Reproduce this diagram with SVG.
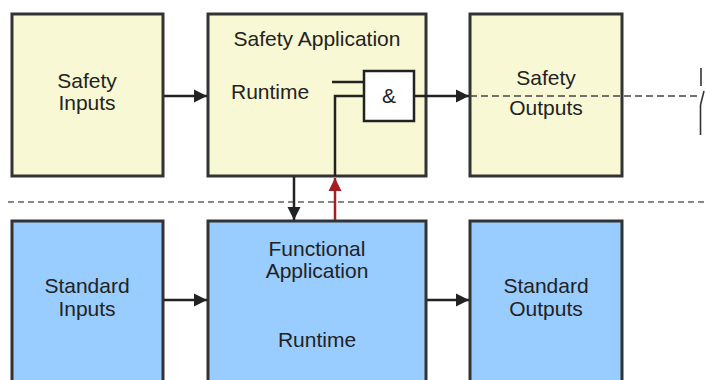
<svg xmlns="http://www.w3.org/2000/svg" width="706" height="380" viewBox="0 0 706 380">
<defs>
<style>
.y{fill:#f8f8d4;stroke:#333;stroke-width:3}
.b{fill:#99ccff;stroke:#333;stroke-width:3}
.t{font-family:"Liberation Sans",Arial,sans-serif;font-size:21px;fill:#222;text-anchor:middle}
.l{stroke:#222;stroke-width:2.5;fill:none}
</style>
<marker id="ah" markerUnits="userSpaceOnUse" markerWidth="14" markerHeight="14" refX="13" refY="7" orient="auto" viewBox="0 0 14 14">
<path d="M0,0.5 L13,7 L0,13.5 z" fill="#222"/>
</marker>
<marker id="ahr" markerUnits="userSpaceOnUse" markerWidth="14" markerHeight="14" refX="13" refY="7" orient="auto" viewBox="0 0 14 14">
<path d="M0,0.5 L13,7 L0,13.5 z" fill="#a61e22"/>
</marker>
</defs>
<rect width="706" height="380" fill="#fff"/>
<line x1="8" y1="202" x2="706" y2="202" stroke="#888" stroke-width="2" stroke-dasharray="6,4"/>
<g id="safety-inputs">
<rect class="y" x="12" y="14" width="151" height="162"/>
<text class="t" x="87" y="88">Safety</text>
<text class="t" x="87" y="110">Inputs</text>
</g>
<g id="safety-application">
<rect class="y" x="208" y="14" width="218" height="162"/>
<text class="t" x="317" y="46">Safety Application</text>
<text class="t" x="231" y="99" style="text-anchor:start">Runtime</text>
</g>
<g id="and-gate">
<rect x="364" y="71" width="50" height="50" fill="#fff" stroke="#222" stroke-width="2.5"/>
<text class="t" x="389" y="103">&amp;</text>
</g>
<g id="safety-outputs">
<rect class="y" x="470" y="14" width="152" height="162"/>
<text class="t" x="546" y="85">Safety</text>
<text class="t" x="546" y="115">Outputs</text>
</g>
<g id="standard-inputs">
<rect class="b" x="12" y="221" width="151" height="170"/>
<text class="t" x="87" y="293">Standard</text>
<text class="t" x="87" y="316">Inputs</text>
</g>
<g id="functional-application">
<rect class="b" x="208" y="221" width="218" height="170"/>
<text class="t" x="317" y="256">Functional</text>
<text class="t" x="317" y="278">Application</text>
<text class="t" x="317" y="347">Runtime</text>
</g>
<g id="standard-outputs">
<rect class="b" x="470" y="221" width="152" height="170"/>
<text class="t" x="546" y="293">Standard</text>
<text class="t" x="546" y="316">Outputs</text>
</g>
<g id="connectors">
<line class="l" x1="164" y1="96" x2="207" y2="96" marker-end="url(#ah)"/>
<line class="l" x1="164" y1="300" x2="207" y2="300" marker-end="url(#ah)"/>
<line class="l" x1="427" y1="300" x2="469" y2="300" marker-end="url(#ah)"/>
<line class="l" x1="415" y1="96" x2="469" y2="96" marker-end="url(#ah)"/>
<line class="l" x1="294" y1="177" x2="294" y2="220" marker-end="url(#ah)"/>
<line x1="335" y1="220" x2="335" y2="178" stroke="#a61e22" stroke-width="2.5" marker-end="url(#ahr)"/>
<polyline class="l" points="335,176 335,96 364,96"/>
<line class="l" x1="332" y1="82" x2="364" y2="82"/>
<line x1="470" y1="96" x2="700" y2="96" stroke="#444" stroke-width="1.6" stroke-dasharray="7,4"/>
<g stroke="#333" stroke-width="1.6" fill="none">
<line x1="701" y1="68" x2="701" y2="86"/>
<line x1="704" y1="91" x2="700.5" y2="105"/>
<line x1="700.5" y1="105" x2="700.5" y2="135"/>
</g>
</g>
</svg>
